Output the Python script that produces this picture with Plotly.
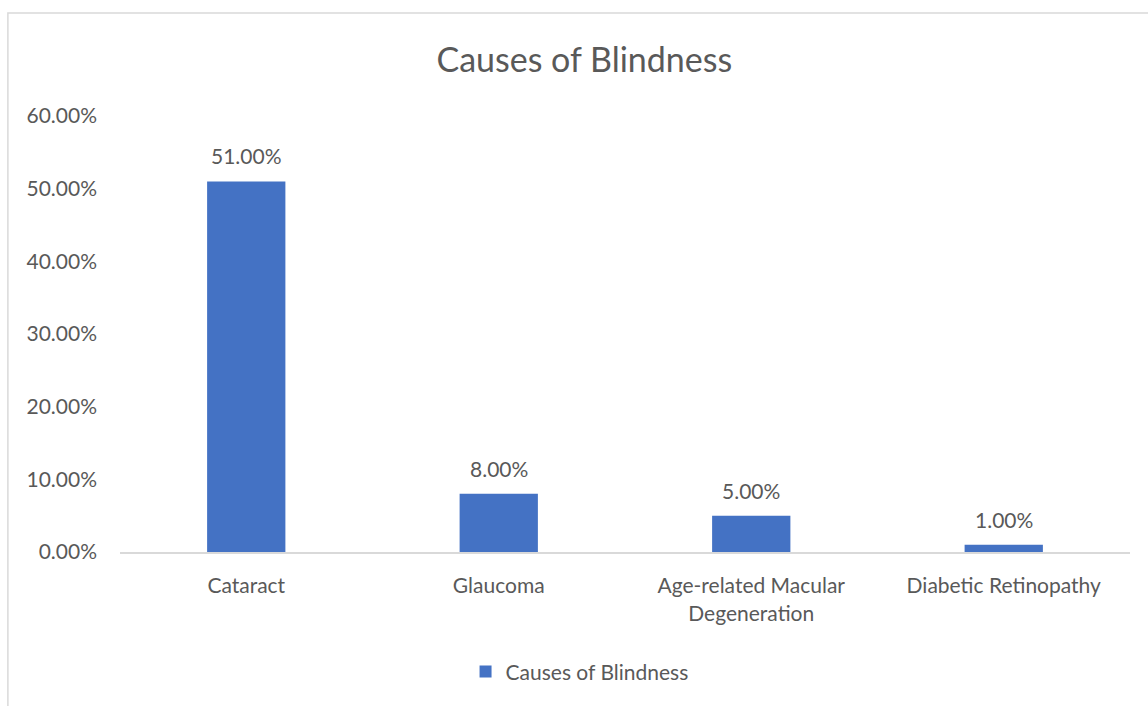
import plotly.graph_objects as go

categories = ["Cataract", "Glaucoma", "Age-related Macular<br>Degeneration", "Diabetic Retinopathy"]
values = [0.51, 0.08, 0.05, 0.01]
series_name = "Causes of Blindness"
y_ticks = [0, 0.1, 0.2, 0.3, 0.4, 0.5, 0.6]

TXT = "#595959"
FONT = "Lato"
FS = 21

fig = go.Figure()
fig.add_trace(go.Bar(
    x=categories, y=values, name=series_name,
    marker=dict(color="#4472C4", line=dict(width=0)),
    showlegend=True,
))

for c, v in zip(categories, values):
    fig.add_annotation(x=c, y=v, text=f"{v*100:.2f}%", showarrow=False,
                       yanchor="bottom", yshift=11,
                       font=dict(family=FONT, size=FS, color=TXT))

fig.update_layout(
    width=1148, height=706,
    margin=dict(l=120, r=18, t=116, b=154),
    paper_bgcolor="white", plot_bgcolor="white",
    title=dict(text="Causes of Blindness", x=0.509, xanchor="center", y=0.915, yanchor="middle",
               font=dict(family=FONT, size=34, color=TXT)),
    bargap=0.69,
    font=dict(family=FONT, color=TXT),
    legend=dict(orientation="h", x=0.455, xanchor="center", y=-0.275, yanchor="middle",
                font=dict(family=FONT, size=FS, color=TXT), itemwidth=30),
    xaxis=dict(showgrid=False, showline=True, linecolor="#D9D9D9", linewidth=2,
               tickfont=dict(family=FONT, size=FS, color=TXT), ticks="", ticklabelstandoff=14,
               range=[-0.5, 3.5]),
    yaxis=dict(range=[0, 0.6], tickvals=y_ticks, tickformat=".2%", showgrid=False,
               zeroline=False, showline=False, ticks="", ticklabelstandoff=22,
               tickfont=dict(family=FONT, size=FS, color=TXT)),
    shapes=[
        dict(type="rect", xref="paper", yref="paper", x0=-0.111, x1=1.2, y0=-0.6, y1=1.236,
             line=dict(color="#D9D9D9", width=1.5), fillcolor="rgba(0,0,0,0)", layer="below"),
    ],
)

fig.write_html("out.html")
